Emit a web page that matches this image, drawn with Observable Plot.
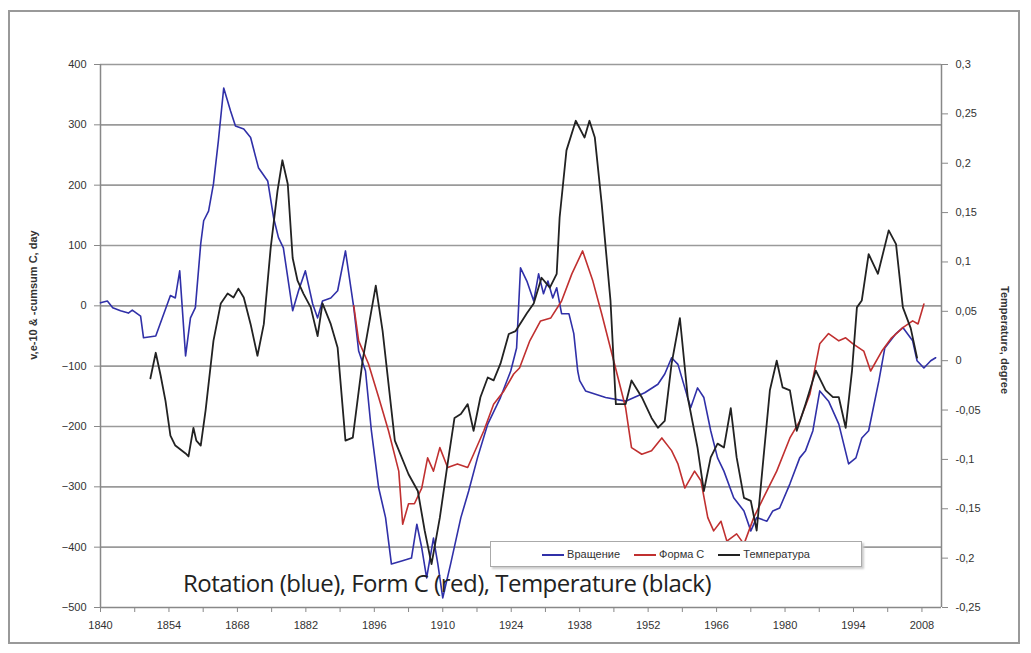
<!DOCTYPE html>
<html><head><meta charset="utf-8">
<script src="https://cdn.jsdelivr.net/npm/d3@7"></script>
<script src="https://cdn.jsdelivr.net/npm/@observablehq/plot@0.6"></script>
<style>
body{margin:0;background:#fff;font-family:"Liberation Sans",Arial,sans-serif}
#wrap{position:relative;width:1031px;height:653px;overflow:hidden}
#frame{position:absolute;left:8px;top:10px;width:1012px;height:634px;border:2px solid #999;box-sizing:border-box;pointer-events:none}
.ttl{position:absolute;font-size:11px;font-weight:bold;color:#333;white-space:nowrap}
#legend{position:absolute;left:490px;top:541px;width:372px;height:26px;background:#fff;border:1px solid #aaa;box-sizing:border-box;font-size:11px;color:#333;display:flex;align-items:center;justify-content:center;gap:14px;box-shadow:2px 2px 2px #ccc}
#legend span i{display:inline-block;width:22px;height:2px;vertical-align:middle;margin-right:3px}
#cap{position:absolute;left:183px;top:566px;font-family:"Open Sans",sans-serif;font-size:24px;letter-spacing:-0.5px;color:#222;white-space:nowrap}
</style></head>
<body><div id="wrap"><div id="chart"></div>
<div class="ttl" style="left:33px;top:295px;transform:translate(-50%,-50%) rotate(-90deg)">v,e-10 &amp; -cumsum C, day</div>
<div class="ttl" style="left:1005px;top:340px;transform:translate(-50%,-50%) rotate(90deg)">Temperature, degree</div>
<div id="legend"><span><i style="background:#3030a8"></i>Вращение</span><span><i style="background:#c03030"></i>Форма С</span><span><i style="background:#222"></i>Температура</span></div>
<div id="cap">Rotation (blue), Form C (red), Temperature (black)</div>
<div id="frame"></div></div>
<script>
const rotYears=[1840.0,1841.4,1842.5,1844.1,1845.7,1846.5,1848.2,1848.8,1851.3,1854.3,1855.3,1856.2,1857.4,1858.4,1859.4,1860.5,1861.1,1862.1,1863.1,1864.1,1865.2,1866.6,1867.6,1869.3,1870.7,1872.3,1874.2,1875.4,1876.4,1877.4,1879.3,1880.5,1881.9,1883.4,1884.4,1885.4,1887.1,1888.5,1890.1,1891.8,1892.8,1894.2,1895.4,1896.9,1898.3,1899.5,1901.6,1903.6,1904.7,1905.7,1906.7,1908.1,1909.0,1910.0,1911.6,1913.7,1915.3,1917.1,1919.2,1921.8,1923.9,1925.1,1925.9,1927.2,1928.6,1929.6,1930.6,1931.5,1932.5,1933.3,1934.3,1935.8,1936.8,1937.6,1938.0,1939.2,1943.3,1947.4,1951.3,1954.0,1955.4,1956.8,1958.1,1959.5,1960.7,1962.1,1963.4,1964.8,1966.2,1967.5,1969.5,1971.6,1973.0,1974.2,1976.3,1977.5,1978.9,1981.0,1983.0,1984.2,1985.7,1987.1,1988.9,1991.0,1993.0,1994.5,1995.7,1997.1,1999.2,2000.4,2002.7,2004.1,2006.1,2007.0,2008.4,2009.8,2010.8];
const rotValues=[5,8,-3,-8,-12,-7,-17,-53,-50,17,13,58,-83,-20,-3,103,141,157,202,273,361,323,298,293,279,229,207,146,113,96,-8,25,58,3,-20,8,13,25,91,-3,-75,-108,-207,-302,-351,-428,-423,-418,-362,-401,-451,-385,-428,-484,-428,-351,-307,-252,-196,-152,-108,-70,63,41,8,53,20,41,13,30,-13,-13,-46,-108,-124,-141,-152,-158,-144,-130,-113,-86,-97,-136,-169,-136,-152,-207,-252,-274,-318,-340,-373,-351,-357,-340,-335,-295,-252,-240,-207,-141,-158,-196,-262,-252,-219,-207,-124,-70,-46,-36,-58,-91,-103,-91,-86];
const formYears=[1891.8,1892.8,1894.8,1896.9,1898.9,1901.0,1901.8,1903.0,1904.2,1905.7,1906.9,1908.1,1909.4,1911.0,1913.0,1915.1,1916.3,1918.4,1920.4,1922.5,1924.5,1925.7,1927.8,1930.0,1932.1,1934.3,1936.4,1938.6,1940.7,1942.5,1944.8,1947.4,1948.6,1950.7,1952.7,1954.8,1956.8,1958.1,1959.5,1961.5,1962.8,1964.2,1965.4,1966.9,1968.1,1970.1,1971.6,1973.6,1975.6,1978.3,1981.0,1983.0,1985.1,1987.1,1988.9,1991.0,1992.4,1993.9,1996.1,1997.5,1999.8,2001.8,2004.1,2006.1,2007.2,2008.4];
const formValues=[0,-58,-96,-152,-207,-274,-362,-328,-328,-302,-252,-274,-235,-268,-262,-268,-246,-207,-163,-141,-113,-103,-58,-25,-20,8,53,91,41,-13,-86,-169,-235,-246,-240,-219,-240,-262,-302,-274,-290,-351,-373,-357,-390,-378,-395,-351,-318,-274,-219,-191,-146,-63,-46,-58,-53,-63,-75,-108,-75,-53,-36,-25,-30,3];
const tempYears=[1850.2,1851.3,1852.3,1853.3,1854.3,1855.3,1857.4,1858.0,1859.0,1859.6,1860.5,1861.5,1863.1,1864.6,1866.0,1867.2,1868.2,1869.3,1870.7,1872.1,1873.4,1874.8,1876.2,1877.2,1878.3,1879.3,1880.3,1881.5,1883.0,1884.4,1885.4,1887.1,1888.5,1890.1,1891.6,1893.6,1896.3,1897.7,1900.2,1903.0,1904.9,1906.3,1907.7,1909.4,1911.0,1912.4,1913.7,1915.1,1916.3,1917.7,1919.2,1920.4,1921.8,1923.5,1924.9,1927.2,1928.6,1930.2,1931.9,1933.3,1933.9,1935.3,1937.2,1939.0,1940.0,1941.1,1942.5,1944.3,1945.4,1947.4,1948.6,1950.7,1952.7,1954.0,1955.4,1956.8,1958.5,1960.1,1962.1,1963.4,1964.8,1966.2,1967.5,1968.9,1970.1,1971.6,1973.0,1974.2,1975.6,1976.9,1978.3,1979.5,1981.0,1982.4,1984.2,1986.3,1988.3,1989.8,1991.0,1992.4,1993.7,1994.7,1995.7,1997.1,1999.0,2001.2,2002.7,2004.1,2005.7,2007.0];
const tempValues=[-0.018,0.008,-0.015,-0.041,-0.076,-0.086,-0.094,-0.097,-0.068,-0.081,-0.086,-0.05,0.02,0.058,0.068,0.064,0.073,0.064,0.037,0.005,0.037,0.114,0.172,0.203,0.179,0.104,0.081,0.068,0.054,0.025,0.058,0.037,0.013,-0.081,-0.078,0.0,0.076,0.03,-0.081,-0.115,-0.132,-0.172,-0.206,-0.159,-0.104,-0.058,-0.054,-0.044,-0.071,-0.037,-0.017,-0.02,-0.003,0.027,0.03,0.048,0.058,0.084,0.074,0.088,0.145,0.213,0.243,0.226,0.243,0.226,0.159,0.061,-0.044,-0.044,-0.02,-0.037,-0.058,-0.068,-0.061,-0.003,0.043,-0.037,-0.088,-0.132,-0.098,-0.084,-0.088,-0.048,-0.098,-0.139,-0.142,-0.172,-0.098,-0.03,0,-0.027,-0.03,-0.071,-0.044,-0.01,-0.03,-0.037,-0.037,-0.068,-0.01,0.054,0.061,0.108,0.088,0.132,0.118,0.054,0.033,0.003];
const leftTicks=[-500,-400,-300,-200,-100,0,100,200,300,400];
const rightTicks=[-0.25,-0.2,-0.15,-0.1,-0.05,0,0.05,0.1,0.15,0.2,0.25,0.3];
const xLabels=[1840,1854,1868,1882,1896,1910,1924,1938,1952,1966,1980,1994,2008];

const toLeft=t=>(t+0.25)/0.55*900-500;
const fromLeft=v=>(v+500)/900*0.55-0.25;
const fmtT=t=>String(+t.toFixed(2)).replace(".",",");
const rot=rotYears.map((y,i)=>({x:y,v:rotValues[i]}));
const form=formYears.map((y,i)=>({x:y,v:formValues[i]}));
const temp=tempYears.map((y,i)=>({x:y,v:toLeft(tempValues[i])}));
const minor=d3.range(1840,2013,7);

const chart=Plot.plot({
  width:1031,height:653,marginLeft:100,marginRight:90,marginTop:64,marginBottom:46,
  style:{fontFamily:"Liberation Sans, Arial, sans-serif",fontSize:"11px",color:"#333"},
  x:{domain:[1840,2012]},
  y:{domain:[-500,400]},
  marks:[
    Plot.ruleY(leftTicks.filter(d=>d>-500),{stroke:"#9a9a9a",strokeWidth:1.6}),
    Plot.ruleY([-500],{stroke:"#888",strokeWidth:1.5}),
    Plot.ruleX([1840],{stroke:"#888",strokeWidth:1.5}),
    Plot.ruleX([2012],{stroke:"#888",strokeWidth:1.5}),
    Plot.axisY({ticks:leftTicks,tickSize:6,tickPadding:8,label:null,stroke:"#888"}),
    Plot.axisY(rightTicks.map(toLeft),{anchor:"right",tickFormat:v=>fmtT(fromLeft(v)),tickSize:6,tickPadding:8,label:null,stroke:"#888"}),
    Plot.axisX(minor,{tickFormat:()=>"",tickSize:5,label:null,stroke:"#888"}),
    Plot.axisX(xLabels,{tickSize:0,tickPadding:14,label:null,tickFormat:d=>String(d)}),
    Plot.line(rot,{x:"x",y:"v",stroke:"#3030a8",strokeWidth:1.6}),
    Plot.line(form,{x:"x",y:"v",stroke:"#c03030",strokeWidth:1.6}),
    Plot.line(temp,{x:"x",y:"v",stroke:"#222",strokeWidth:1.8})
  ]
});
document.getElementById("chart").appendChild(chart);
</script></body></html>
